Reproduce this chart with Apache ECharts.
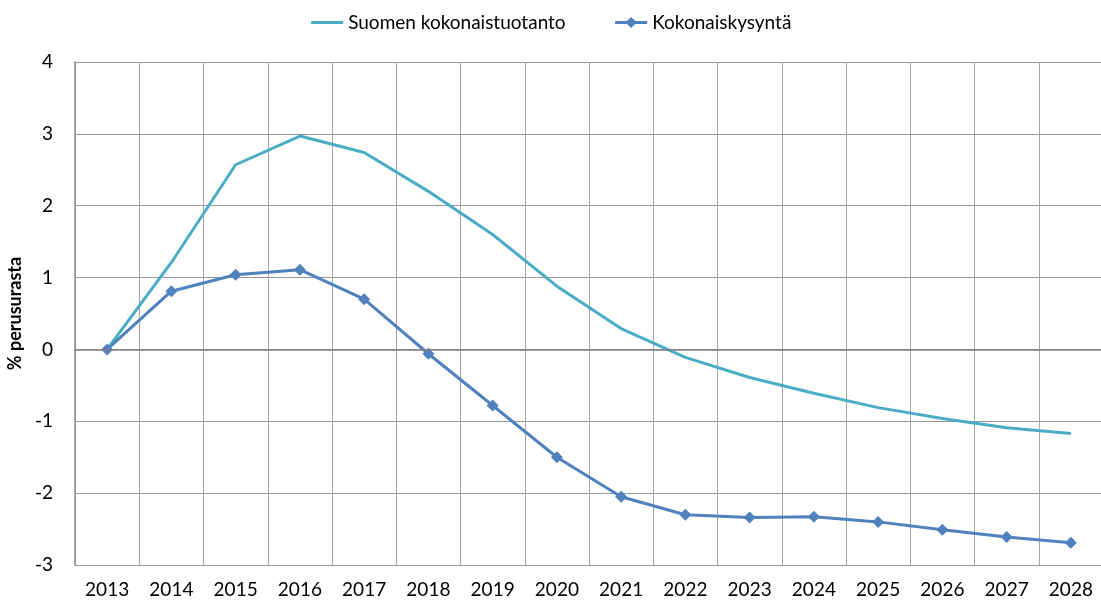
<!DOCTYPE html>
<html>
<head>
<meta charset="utf-8">
<script src="https://cdn.jsdelivr.net/npm/echarts@6/dist/echarts.min.js"></script>
<style>
  html, body { margin: 0; padding: 0; background: #fff; }
  #chart { width: 1101px; height: 603px; }
</style>
</head>
<body>
<div id="chart"></div>
<script>
// vuodet
var years = ['2013', '2014', '2015', '2016', '2017', '2018', '2019', '2020',
             '2021', '2022', '2023', '2024', '2025', '2026', '2027', '2028'];
// Suomen kokonaistuotanto, % perusurasta
var tuotanto = [0, 1.21, 2.57, 2.97, 2.74, 2.2, 1.6, 0.88,
                0.29, -0.11, -0.39, -0.61, -0.81, -0.96, -1.09, -1.17];
// Kokonaiskysyntä, % perusurasta
var kysynta = [0, 0.81, 1.04, 1.11, 0.7, -0.06, -0.78, -1.5,
               -2.05, -2.3, -2.34, -2.33, -2.4, -2.51, -2.61, -2.69];

var fontName = 'Lato';
var chart = echarts.init(document.getElementById('chart'));

var option = {
    backgroundColor: '#fff',
    animation: false,
    textStyle: { fontFamily: fontName },
    legend: {
        top: 8,
        left: 'center',
        itemGap: 48,
        itemWidth: 32,
        itemHeight: 14,
        lineStyle: { width: 3 },
        textStyle: { fontSize: 19, color: '#000', fontFamily: fontName },
        data: [
            { name: 'Suomen kokonaistuotanto', itemStyle: { opacity: 0 } },
            'Kokonaiskysyntä'
        ]
    },
    grid: {
        left: 75,
        right: -2,
        top: 62,
        bottom: 38,
        containLabel: false,
        outerBoundsMode: 'none'
    },
    xAxis: {
        type: 'category',
        data: years,
        boundaryGap: true,
        axisLine: { show: false },
        axisTick: { show: false },
        axisLabel: { fontSize: 19, color: '#000', margin: 15, fontFamily: fontName },
        splitLine: { show: true, lineStyle: { color: '#a6a6a6', width: 1 } }
    },
    yAxis: {
        type: 'value',
        min: -3,
        max: 4,
        interval: 1,
        name: '% perusurasta',
        nameLocation: 'middle',
        nameGap: 47,
        nameTextStyle: { fontSize: 18, fontWeight: 'bold', color: '#000', fontFamily: fontName },
        axisLine: { show: true, lineStyle: { color: '#8c8c8c', width: 1.5 } },
        axisTick: { show: false },
        axisLabel: { fontSize: 19, color: '#000', margin: 22, fontFamily: fontName },
        splitLine: { show: true, lineStyle: { color: '#969696', width: 1 } }
    },
    series: [
        {
            name: 'Suomen kokonaistuotanto',
            type: 'line',
            data: tuotanto,
            showSymbol: false,
            symbol: 'none',
            lineStyle: { color: '#4BACC6', width: 3 },
            itemStyle: { color: '#4BACC6' },
            z: 3,
            markLine: {
                silent: true,
                symbol: 'none',
                label: { show: false },
                lineStyle: { color: '#7f7f7f', width: 1.5, type: 'solid' },
                data: [{ yAxis: 0 }]
            }
        },
        {
            name: 'Kokonaiskysyntä',
            type: 'line',
            data: kysynta,
            symbol: 'diamond',
            symbolSize: 12,
            lineStyle: { color: '#4F81BD', width: 3 },
            itemStyle: { color: '#4F81BD' },
            z: 4
        }
    ]
};
chart.setOption(option);
</script>
</body>
</html>
